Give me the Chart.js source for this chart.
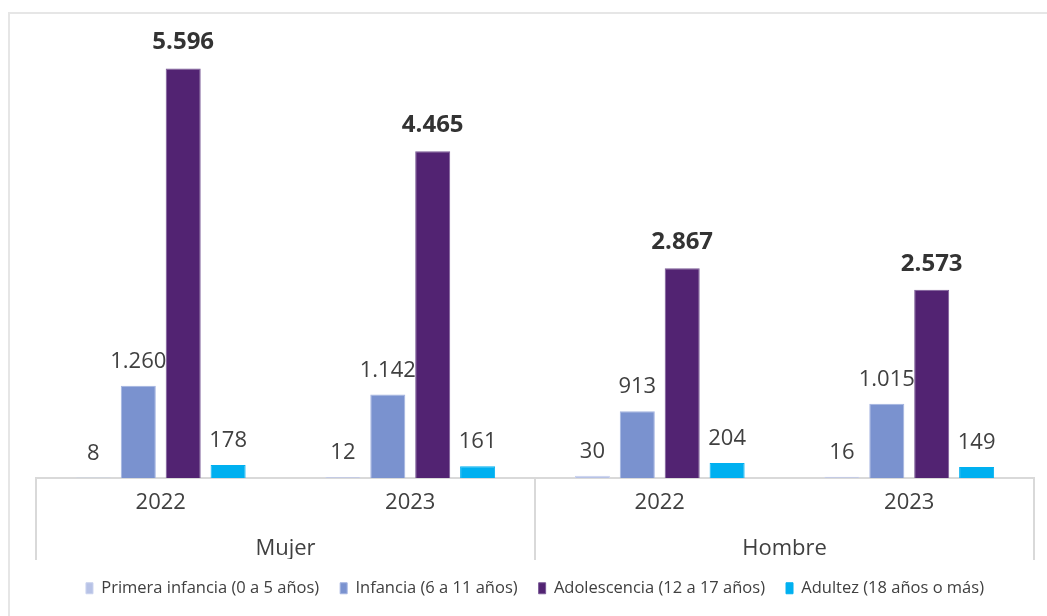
<!DOCTYPE html>
<html>
<head>
<meta charset="utf-8">
<script src="https://cdn.jsdelivr.net/npm/chart.js@4/dist/chart.umd.min.js"></script>
<style>
  body { margin: 0; background: #fff; }
  #wrap { position: relative; width: 1047px; height: 616px; overflow: hidden; }
  #frame { position: absolute; left: 8px; top: 12px; width: 1100px; height: 700px;
           border-left: 2px solid #e6e6e6; border-top: 2px solid #e6e6e6; }
  #chart { position: absolute; left: 0; top: 0; }
</style>
</head>
<body>
<div id="wrap">
  <div id="frame"></div>
  <canvas id="chart" width="1047" height="616"></canvas>
</div>
<script>
// ===== DATA =====
const years = ['2022', '2023', '2022', '2023'];
const groups = ['Mujer', 'Hombre'];
const primeraInfancia = [8, 12, 30, 16];
const infancia = [1260, 1142, 913, 1015];
const adolescencia = [5596, 4465, 2867, 2573];
const adultez = [178, 161, 204, 149];

const FONT = "'Open Sans', 'Noto Sans', sans-serif";
const GRID = '#d9d9d9';

function fmt(v){
    return String(v).replace(/\B(?=(\d{3})+(?!\d))/g, '.');
}

// value labels above each bar
const valueLabels = {
    id: 'valueLabels',
    afterDatasetsDraw(chart){
        const ctx = chart.ctx;
        ctx.save();
        ctx.textAlign = 'center';
        ctx.textBaseline = 'middle';
        chart.data.datasets.forEach(function(ds, i){
            const meta = chart.getDatasetMeta(i);
            meta.data.forEach(function(bar, j){
                if(ds.bold){
                    ctx.font = 'bold 24px ' + FONT;
                    ctx.fillStyle = '#333333';
                    ctx.fillText(fmt(ds.data[j]), bar.x, bar.y - 26);
                } else {
                    ctx.font = '22px ' + FONT;
                    ctx.fillStyle = '#404040';
                    ctx.fillText(fmt(ds.data[j]), bar.x, bar.y - 24);
                }
            });
        });
        ctx.restore();
    }
};

// vertical dividers of the two-level category axis
const groupDividers = {
    id: 'groupDividers',
    afterDraw(chart){
        const x = chart.scales.x;
        const grp = chart.scales.grp;
        const ctx = chart.ctx;
        const mid = (x.getPixelForValue(1) + x.getPixelForValue(2)) / 2;
        ctx.save();
        ctx.strokeStyle = GRID;
        ctx.lineWidth = 2;
        [x.left, mid, x.right].forEach(function(px){
            ctx.beginPath();
            ctx.moveTo(px, chart.chartArea.bottom);
            ctx.lineTo(px, grp.bottom + 1);
            ctx.stroke();
        });
        ctx.restore();
    }
};

const ctx = document.getElementById('chart').getContext('2d');

new Chart(ctx, {
    type: 'bar',
    data: {
        labels: years,
        datasets: [
            { label: 'Primera infancia (0 a 5 años)', data: primeraInfancia, backgroundColor: '#b7c2e6', borderColor: '#c9d2ee', borderWidth: 1 },
            { label: 'Infancia (6 a 11 años)', data: infancia, backgroundColor: '#7a92cf', borderColor: '#a3b3e0', borderWidth: 1 },
            { label: 'Adolescencia (12 a 17 años)', data: adolescencia, backgroundColor: '#522372', borderColor: '#7a5a96', borderWidth: 1, bold: true },
            { label: 'Adultez (18 años o más)', data: adultez, backgroundColor: '#00b0f0', borderColor: '#00b0f0', borderWidth: 1 }
        ]
    },
    options: {
        responsive: false,
        animation: false,
        categoryPercentage: 0.72,
        barPercentage: 0.78,
        layout: { padding: { left: 36, right: 13, top: 39, bottom: 9.5 } },
        plugins: {
            legend: {
                position: 'bottom',
                labels: {
                    boxWidth: 7,
                    boxHeight: 11,
                    padding: 21,
                    color: '#404040',
                    font: { family: FONT, size: 16.5 }
                }
            },
            tooltip: { enabled: false }
        },
        scales: {
            y: {
                display: false,
                min: 0,
                max: 6000
            },
            x: {
                grid: { display: false, drawTicks: false },
                border: { display: true, color: GRID, width: 2 },
                ticks: {
                    color: '#404040',
                    padding: 12,
                    font: { family: FONT, size: 22 }
                },
                afterFit(scale){
                    scale.height = 37;
                }
            },
            grp: {
                type: 'category',
                labels: groups,
                position: 'bottom',
                offset: true,
                grid: { display: false, drawTicks: false },
                border: { display: false },
                ticks: {
                    color: '#404040',
                    padding: 21,
                    font: { family: FONT, size: 22 }
                },
                afterFit(scale){
                    scale.height = 44;
                }
            }
        }
    },
    plugins: [valueLabels, groupDividers]
});
</script>
</body>
</html>
